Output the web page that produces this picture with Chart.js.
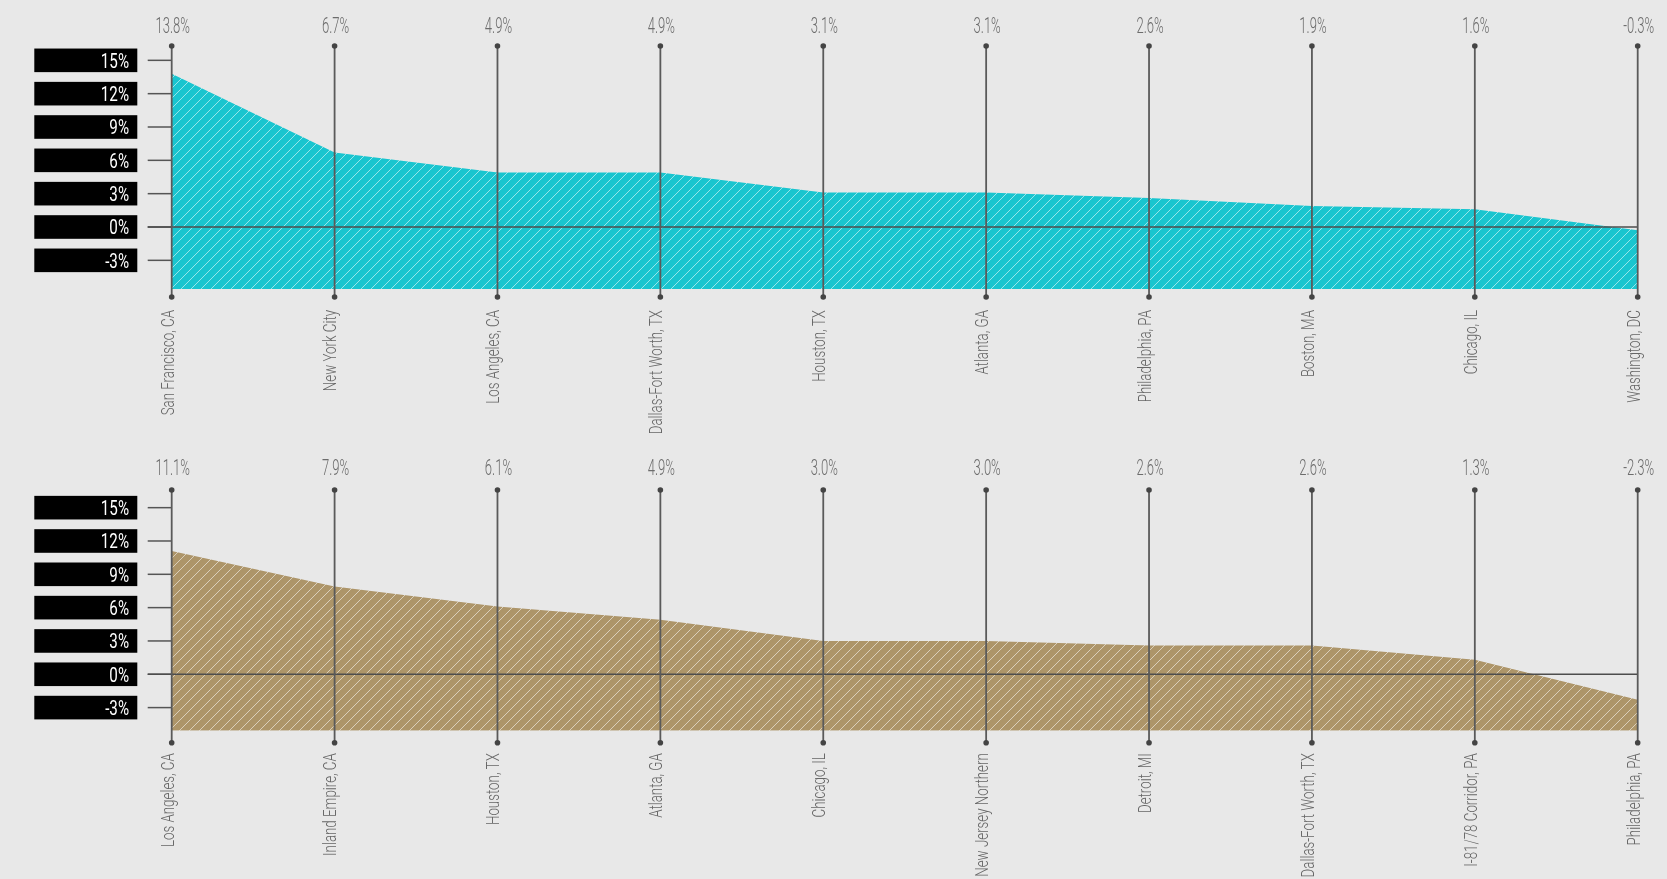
<!DOCTYPE html>
<html>
<head>
<meta charset="utf-8">
<script src="https://cdn.jsdelivr.net/npm/chart.js@4/dist/chart.umd.min.js"></script>
<style>
  html, body { margin: 0; padding: 0; background: #e8e8e8; }
  #wrap { position: relative; width: 1667px; height: 879px; overflow: hidden; }
  canvas { position: absolute; left: 0; }
</style>
</head>
<body>
<div id="wrap">
  <canvas id="upper" width="1667" height="440" style="top:0"></canvas>
  <canvas id="lower" width="1667" height="439" style="top:440px"></canvas>
</div>
<script>
// Market growth rates (%)
const upperMarkets = ['San Francisco, CA', 'New York City', 'Los Angeles, CA', 'Dallas-Fort Worth, TX',
  'Houston, TX', 'Atlanta, GA', 'Philadelphia, PA', 'Boston, MA', 'Chicago, IL', 'Washington, DC'];
const upperGrowth = [13.8, 6.7, 4.9, 4.9, 3.1, 3.1, 2.6, 1.9, 1.6, -0.3];

const lowerMarkets = ['Los Angeles, CA', 'Inland Empire, CA', 'Houston, TX', 'Atlanta, GA', 'Chicago, IL',
  'New Jersey Northern', 'Detroit, MI', 'Dallas-Fort Worth, TX', 'I-81/78 Corridor, PA', 'Philadelphia, PA'];
const lowerGrowth = [11.1, 7.9, 6.1, 4.9, 3.0, 3.0, 2.6, 2.6, 1.3, -2.3];

const yTickValues = [15, 12, 9, 6, 3, 0, -3];

// Diagonal "/" hatching over a solid fill
function makeHatch(base) {
  const d = 10;
  const c = document.createElement('canvas');
  c.width = d; c.height = d;
  const g = c.getContext('2d');
  g.fillStyle = base;
  g.fillRect(0, 0, d, d);
  g.strokeStyle = 'rgba(255,255,255,0.55)';
  g.lineWidth = 1;
  g.beginPath();
  g.moveTo(-1, d + 1); g.lineTo(d + 1, -1);
  g.moveTo(-1, 1); g.lineTo(1, -1);
  g.moveTo(d - 1, d + 1); g.lineTo(d + 1, d - 1);
  g.stroke();
  return g.createPattern(c, 'repeat');
}

function condensedText(ctx, text, x, y, sx, align, rotate) {
  ctx.save();
  ctx.translate(x, y);
  if (rotate) ctx.rotate(-Math.PI / 2);
  ctx.scale(sx, 1);
  ctx.textAlign = align;
  ctx.textBaseline = 'alphabetic';
  ctx.fillText(text, 0, 0);
  ctx.restore();
}

// Axis decorations: market stems, value labels, boxed y ticks, zero line, rotated names
const decorations = {
  id: 'decorations',
  afterDatasetsDraw(chart, args, opts) {
    const ctx = chart.ctx;
    const area = chart.chartArea;
    const xs = chart.scales.x;
    const ys = chart.scales.y;
    const values = chart.data.datasets[0].data;
    const labels = chart.data.labels;
    const stemBottom = area.bottom + opts.stemBelow;

    ctx.save();

    // y ticks: black label boxes and short tick marks
    yTickValues.forEach(v => {
      const y = ys.getPixelForValue(v);
      ctx.fillStyle = '#000';
      ctx.fillRect(area.left - 137.4, y - 11.8, 103, 23.6);
      ctx.fillStyle = '#fff';
      ctx.font = '400 20.5px Roboto';
      condensedText(ctx, v + '%', area.left - 42.7, y + 7.3, 0.74, 'right', false);
      ctx.strokeStyle = '#555';
      ctx.lineWidth = 1.5;
      ctx.beginPath();
      ctx.moveTo(area.left - 24, y);
      ctx.lineTo(area.left, y);
      ctx.stroke();
    });

    // zero line
    const y0 = ys.getPixelForValue(0);
    ctx.strokeStyle = '#4d4d4d';
    ctx.lineWidth = 1.6;
    ctx.beginPath();
    ctx.moveTo(area.left - 24, y0);
    ctx.lineTo(area.right, y0);
    ctx.stroke();

    // stems with end dots, value labels, market names
    labels.forEach((name, i) => {
      const x = xs.getPixelForValue(i);
      ctx.strokeStyle = '#5a5a5a';
      ctx.lineWidth = 1.8;
      ctx.beginPath();
      ctx.moveTo(x, area.top);
      ctx.lineTo(x, stemBottom);
      ctx.stroke();
      ctx.fillStyle = '#444';
      [area.top, stemBottom].forEach(yy => {
        ctx.beginPath();
        ctx.arc(x, yy, 2.8, 0, Math.PI * 2);
        ctx.fill();
      });

      ctx.fillStyle = '#6c6c6c';
      ctx.font = '300 22.5px Roboto';
      condensedText(ctx, values[i].toFixed(1) + '%', x + 1, area.top - opts.valueGap, 0.58, 'center', false);

      ctx.fillStyle = '#666';
      ctx.font = '300 18.5px Roboto';
      condensedText(ctx, name, x + 1.8, stemBottom + opts.nameGap, 0.72, 'right', true);
    });

    ctx.restore();
  }
};

function buildChart(id, labels, values, color, cfg) {
  const ctx = document.getElementById(id).getContext('2d');
  return new Chart(ctx, {
    type: 'line',
    data: {
      labels: labels,
      datasets: [{
        data: values,
        fill: 'start',
        backgroundColor: makeHatch(color),
        borderColor: 'rgba(0,0,0,0)',
        borderWidth: 0,
        pointRadius: 0,
        tension: 0
      }]
    },
    options: {
      responsive: false,
      animation: false,
      devicePixelRatio: 1,
      layout: { padding: cfg.padding },
      scales: {
        x: { type: 'category', display: false, offset: false },
        y: { display: false, min: cfg.min, max: cfg.max }
      },
      plugins: {
        legend: { display: false },
        tooltip: { enabled: false },
        decorations: { stemBelow: cfg.stemBelow, valueGap: cfg.valueGap, nameGap: cfg.nameGap }
      }
    },
    plugins: [decorations]
  });
}

buildChart('upper', upperMarkets, upperGrowth, '#19c5cf', {
  padding: { left: 171.7, right: 29.3, top: 46, bottom: 151 },
  min: -5.58, max: 16.29,
  stemBelow: 8, valueGap: 12.7, nameGap: 13
});

buildChart('lower', lowerMarkets, lowerGrowth, '#ad9569', {
  padding: { left: 171.7, right: 29.3, top: 50, bottom: 148.3 },
  min: -5.08, max: 16.59,
  stemBelow: 12, valueGap: 15, nameGap: 10.5
});
</script>
</body>
</html>
